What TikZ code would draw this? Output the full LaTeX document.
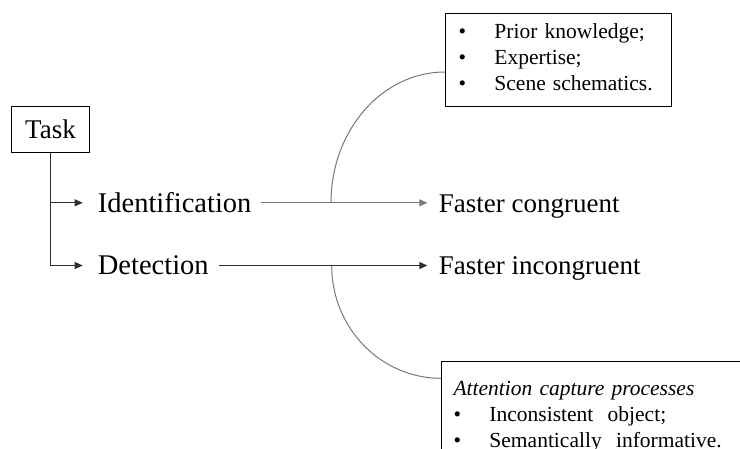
\documentclass[tikz,border=0pt]{standalone}
\usepackage{fontspec}
\setmainfont{Liberation Serif}
\usetikzlibrary{arrows.meta,calc}
\definecolor{lightln}{HTML}{787878}
\definecolor{darkln}{HTML}{303030}
\begin{document}
\begin{tikzpicture}[x=1pt,y=-1pt,
  lbl/.style={inner sep=0pt, anchor=base west, font=\fontsize{28.5}{32}\selectfont},
  rlbl/.style={inner sep=0pt, anchor=base west, font=\fontsize{27}{31}\selectfont},
  boxed/.style={draw=black, line width=1pt},
  stub/.style={draw=darkln, line width=1pt, -{Triangle[length=8pt,width=7pt]}},
  lightarrow/.style={draw=lightln, line width=1pt, -{Triangle[length=8pt,width=7pt]}},
  darkarrow/.style={draw=darkln, line width=1pt, -{Triangle[length=8pt,width=7pt]}},
  arcline/.style={draw=lightln, line width=1pt},
  infobox/.style={boxed, anchor=north west, align=left, font=\fontsize{21.5}{26}\selectfont}
]
\clip (0,0) rectangle (740,449);
\fill[white] (0,0) rectangle (740,449);

% Task box
\node[boxed, minimum width=78pt, minimum height=46.7pt, inner sep=0pt,
      font=\fontsize{27}{30}\selectfont] (task) at (50.5,129.4) {Task};

% labels
\node[lbl] (ident) at (97.7,212.7) {Identification};
\node[lbl] (detect) at (97.7,274.8) {Detection};
\node[rlbl] (fcong) at (438.7,212.3) {Faster congruent};
\node[rlbl] (fincong) at (438.7,274.3) {Faster incongruent};

% info boxes
\node[infobox, text width=199.7pt, inner xsep=13pt, inner ysep=10pt] (topbox) at (445,12.7)
  {\makebox[36pt][l]{\textbullet}Prior knowledge;\\
   \makebox[36pt][l]{\textbullet}Expertise;\\
   \makebox[36pt][l]{\textbullet}Scene schematics.\rule[-6.8pt]{0pt}{0pt}};
\node[infobox, text width=300pt, inner xsep=12pt, inner ysep=20pt] (botbox) at (441,360.7)
  {\textit{Attention capture processes}\\
   \makebox[36pt][l]{\textbullet}Inconsistent\ \ object;\\
   \makebox[36pt][l]{\textbullet}Semantically\ \ informative.};

% trunk and stubs
\draw[draw=darkln, line width=1pt] (task.south) -- (task.south |- detect.west);
\draw[stub] (task.south |- ident.west) -- ([xshift=-15pt]ident.west);
\draw[stub] (task.south |- detect.west) -- ([xshift=-15pt]detect.west);

% main connectors
\draw[lightarrow] ([xshift=9.7pt]ident.east) -- ([xshift=-11.4pt]fcong.west |- ident.east);
\draw[darkarrow] ([xshift=10pt]detect.east) -- ([xshift=-11.4pt]fincong.west |- detect.east);

% arcs
\coordinate (j1) at (331,0 |- ident.east);
\coordinate (j2) at (331.7,0 |- detect.east);
\coordinate (tbe) at ($(topbox.north west)+(0,59.3)$);
\coordinate (bbe) at ($(botbox.north west)+(0,17.6)$);
\draw[arcline] (j1) .. controls +(0,-72.4) and +(-63,0) .. (tbe);
\draw[arcline] (j2) .. controls +(0,62.4) and +(-60.4,0) .. (bbe);
\end{tikzpicture}
\end{document}
